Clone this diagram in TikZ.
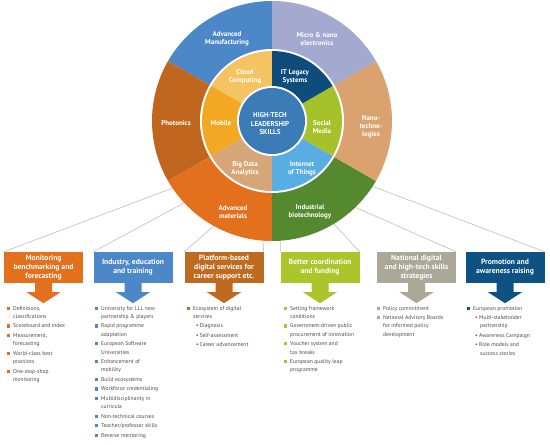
\documentclass[tikz,border=0pt]{standalone}
\usepackage{fontspec}
\setmainfont{PT Sans}
\usetikzlibrary{calc}
\definecolor{cAM}{HTML}{4C87C7}
\definecolor{cMN}{HTML}{A4A9CF}
\definecolor{cNT}{HTML}{D9A26E}
\definecolor{cIB}{HTML}{55892F}
\definecolor{cAMat}{HTML}{E2701D}
\definecolor{cPh}{HTML}{C1661E}
\definecolor{cCC}{HTML}{F5C462}
\definecolor{cIT}{HTML}{0E4C7C}
\definecolor{cSM}{HTML}{A5C22B}
\definecolor{cIoT}{HTML}{58AEE2}
\definecolor{cBD}{HTML}{D6A679}
\definecolor{cMob}{HTML}{F2A823}
\definecolor{cCen}{HTML}{3C7CB6}
\definecolor{bA}{HTML}{E2701D}
\definecolor{bB}{HTML}{4C87C7}
\definecolor{bC}{HTML}{BE6A20}
\definecolor{bD}{HTML}{A9C62B}
\definecolor{bE}{HTML}{ACA898}
\definecolor{bF}{HTML}{0D5283}
\definecolor{lineg}{HTML}{BDBDBD}
\definecolor{txtg}{HTML}{4A4A4A}
\tikzset{
  ringtxt/.style={text=white, font=\fontsize{7}{8}\selectfont\bfseries, align=center, inner sep=0pt},
  hbox/.style={minimum width=79pt, minimum height=31pt, inner sep=1pt, text=white, align=center, font=\fontsize{7.6}{9}\selectfont\bfseries},
  conn/.style={draw=lineg, line width=0.6pt},
  lst/.style={anchor=north west, inner sep=0pt, text=txtg, font=\fontsize{5.6}{8.3}\selectfont, align=left}
}
\newcommand\sq[1]{\llap{\textcolor{#1}{\rule[0.3pt]{3.2pt}{3.2pt}}\hspace{3pt}}}
\newcommand\myarrow[2]{\fill[#2] ($(#1.south)+(-8.5,0.5)$) -- ++(0,-9.5) -- ++(-8.5,0) -- ($(#1.south)+(0,-20)$) -- ($(#1.south)+(17,-9)$) -- ++(-8.5,0) -- ++(0,9.5) -- cycle;}
\newcommand\sector[5]{\fill[#1] (#2) -- ($(#2)+(#3:#5)$) arc[start angle=#3, end angle=#4, radius=#5] -- cycle;}
\begin{document}
\begin{tikzpicture}[x=1pt,y=1pt]
\useasboundingbox (0,0) rectangle (550,445);
\coordinate (c) at (272,324);
% boxes
\node[hbox, fill=bA] (b1) at (43.5,177.5) {Monitoring\\benchmarking and\\forecasting};
\node[hbox, fill=bB] (b2) at (133,177.5) {Industry, education\\and training};
\node[hbox, fill=bC] (b3) at (224,177.5) {Platform-based\\digital services for\\career support etc.};
\node[hbox, fill=bD] (b4) at (320,177.5) {Better coordination\\and funding};
\node[hbox, fill=bE] (b5) at (416.5,177.5) {National digital\\and high-tech skills\\strategies};
\node[hbox, fill=bF] (b6) at (505,177.5) {Promotion and\\awareness raising};
% circle anchor points
\coordinate (p1) at ($(c)+(214:120pt)$);
\coordinate (p2) at ($(c)+(223:120pt)$);
\coordinate (p3) at ($(c)+(241:120pt)$);
\coordinate (p4) at ($(c)+(265.7:120pt)$);
\coordinate (p5) at ($(c)+(274:120pt)$);
\coordinate (p6) at ($(c)+(301:120pt)$);
\coordinate (p7) at ($(c)+(314:120pt)$);
\coordinate (p8) at ($(c)+(327:120pt)$);
\draw[conn] (b1.north west) -- (p1);
\draw[conn] (b2.north west) -- (p2);
\draw[conn] (b3.north west) -- (p3);
\draw[conn] (b3.north east) -- (p4);
\draw[conn] (b4.north west) -- (p5);
\draw[conn] (b4.north east) -- (p6);
\draw[conn] (b5.north east) -- (p7);
\draw[conn] (b6.north east) -- (p8);
% outer ring
\sector{cAM}{c}{90}{150}{120pt}
\sector{cPh}{c}{150}{210}{120pt}
\sector{cAMat}{c}{210}{270}{120pt}
\sector{cIB}{c}{270}{330}{120pt}
\sector{cNT}{c}{330}{390}{120pt}
\sector{cMN}{c}{30}{90}{120pt}
\fill[white] (c) circle[radius=72pt];
\sector{cCC}{c}{90}{150}{70pt}
\sector{cMob}{c}{150}{210}{70pt}
\sector{cBD}{c}{210}{270}{70pt}
\sector{cIoT}{c}{270}{330}{70pt}
\sector{cSM}{c}{330}{390}{70pt}
\sector{cIT}{c}{30}{90}{70pt}
\fill[white] (c) circle[radius=35pt];
\fill[cCen] (c) circle[radius=33pt];
% ring texts
\node[ringtxt] (tAM) at (227,406) {Advanced\\Manufacturing};
\node[ringtxt] (tMN) at (317,406) {Micro \& nano\\electronics};
\node[ringtxt] (tPh) at (176,322) {Photonics};
\node[ringtxt] (tNT) at (371,318) {Nano-\\techno-\\logies};
\node[ringtxt] (tAMat) at (233,233) {Advanced\\materials};
\node[ringtxt] (tIB) at (310,233) {Industrial\\biotechnology};
\node[ringtxt] (tCC) at (245,368) {Cloud\\Computing};
\node[ringtxt] (tIT) at (295,368) {IT Legacy\\Systems};
\node[ringtxt] (tMob) at (221,322) {Mobile};
\node[ringtxt] (tSM) at (322,318) {Social\\Media};
\node[ringtxt] (tBD) at (245,276) {Big Data\\Analytics};
\node[ringtxt] (tIoT) at (302,276) {Internet\\of Things};
\node[ringtxt, font=\fontsize{7}{8.5}\selectfont\bfseries] (tC) at (270,321) {HIGH-TECH\\LEADERSHIP\\SKILLS};
% arrows
\myarrow{b1}{bA}
\myarrow{b2}{bB}
\myarrow{b3}{bC}
\myarrow{b4}{bD}
\myarrow{b5}{bE}
\myarrow{b6}{bF}
% lists
\node[lst] (l1) at (13,139) {\sq{bA}Definitions,\\classifications\\[1.2pt]
\sq{bA}Scoreboard and index\\[1.2pt]
\sq{bA}Measurement,\\forecasting\\[1.2pt]
\sq{bA}World-class best\\practices\\[1.2pt]
\sq{bA}One-stop-shop\\monitoring};
\node[lst] (l2) at (101,139) {\sq{bB}University for LLL new\\partnership \& players\\[1.2pt]
\sq{bB}Rapid programme\\adaptation\\[1.2pt]
\sq{bB}European Software\\Universities\\[1.2pt]
\sq{bB}Enhancement of\\mobility\\[1.2pt]
\sq{bB}Build ecosystems\\[1.2pt]
\sq{bB}Workforce credentialing\\[1.2pt]
\sq{bB}Multidisciplinarity in\\curricula\\[1.2pt]
\sq{bB}Non-technical courses\\[1.2pt]
\sq{bB}Teacher/professor skills\\[1.2pt]
\sq{bB}Reverse mentoring};
\node[lst] (l3) at (193,139) {\sq{bC}Ecosystem of digital\\services\\[1.2pt]
\hspace*{3pt}\textbullet\,Diagnosis\\[1.2pt]
\hspace*{3pt}\textbullet\,Self-assessment\\[1.2pt]
\hspace*{3pt}\textbullet\,Career advancement};
\node[lst] (l4) at (290,139) {\sq{bD}Setting framework\\conditions\\[1.2pt]
\sq{bD}Government-driven public\\procurement of innovation\\[1.2pt]
\sq{bD}Voucher system and\\tax breaks\\[1.2pt]
\sq{bD}European quality leap\\programme};
\node[lst] (l5) at (383,139) {\sq{bE}Policy commitment\\[1.2pt]
\sq{bE}National Advisory Boards\\for informed policy\\development};
\node[lst] (l6) at (473,139) {\sq{bF}European promotion\\[1.2pt]
\hspace*{2pt}\textbullet\ Multi-stakeholder\\\hspace*{7pt}partnership\\[1.2pt]
\hspace*{2pt}\textbullet\ Awareness Campaign\\[1.2pt]
\hspace*{2pt}\textbullet\ Role models and\\\hspace*{7pt}success stories};
\end{tikzpicture}
\end{document}
